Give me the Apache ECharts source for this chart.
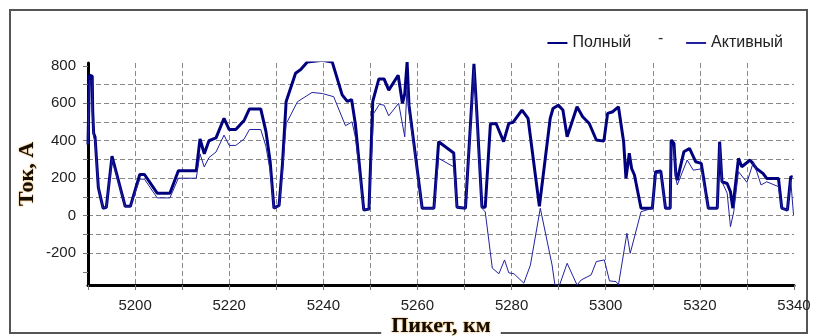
<!DOCTYPE html>
<html>
<head>
<meta charset="utf-8">
<script src="https://cdn.jsdelivr.net/npm/echarts@6/dist/echarts.min.js"></script>
<style>
  html, body { margin: 0; padding: 0; background: #fff; }
  #chart { width: 814px; height: 336px; }
</style>
</head>
<body>
<div id="chart"></div>
<script>
// пикеты (км) и ток полный, А
const fullKm = [5190, 5190.3, 5190.9, 5191.0, 5191.2, 5191.5, 5192.2, 5193.2, 5193.9, 5195.1,
  5197.9, 5199.0, 5201.0, 5202.0, 5204.7, 5207.4, 5209.2, 5213.0, 5213.8, 5214.7,
  5215.7, 5217.2, 5218.9, 5220.0, 5221.4, 5223.2, 5224.3, 5226.7, 5227.8, 5228.7,
  5229.5, 5230.6, 5231.3, 5232.1, 5234.1, 5235.2, 5236.6, 5239.8, 5241.9, 5244.0,
  5245.1, 5246.0, 5246.8, 5248.6, 5249.7, 5250.5, 5251.8, 5252.9, 5253.9, 5255.9,
  5256.8, 5257.3, 5257.8, 5258.2, 5261.0, 5263.5, 5264.5, 5267.7, 5268.4, 5270.2,
  5271.5, 5272.0, 5272.5, 5273.7, 5274.4, 5275.5, 5276.7, 5278.3, 5279.4, 5280.3,
  5282.2, 5283.5, 5285.9, 5288.2, 5288.8, 5289.9, 5290.9, 5291.8, 5293.9, 5295.1,
  5296.5, 5298.0, 5299.6, 5300.4, 5301.5, 5302.7, 5303.8, 5304.3, 5305.0, 5305.5,
  5306.1, 5307.5, 5309.9, 5310.6, 5311.7, 5312.7, 5313.7, 5313.9, 5314.5, 5314.9,
  5315.2, 5316.6, 5317.8, 5319.1, 5320.3, 5321.8, 5323.7, 5324.2, 5324.7, 5325.8,
  5326.5, 5327.0, 5328.2, 5328.9, 5330.7, 5332.0, 5333.4, 5334.2, 5336.7, 5337.4,
  5338.6, 5339.3, 5339.7];
const fullA = [380, 750, 745, 560, 440, 420, 150, 40, 45, 318,
  50, 50, 220, 220, 120, 120, 240, 240, 410, 330,
  400, 415, 520, 460, 460, 510, 570, 570, 450, 290,
  40, 55, 270, 610, 760, 780, 820, 830, 820, 645,
  610, 620, 490, 30, 35, 610, 730, 730, 670, 750,
  600, 650, 820, 590, 40, 40, 395, 335, 45, 40,
  590, 810, 600, 45, 45, 490, 492, 395, 492, 498,
  564, 519, 50, 519, 572, 590, 564, 421, 581, 528,
  492, 404, 398, 546, 555, 581, 395, 199, 333, 252,
  217, 40, 40, 235, 238, 40, 40, 404, 386, 217,
  190, 341, 359, 288, 279, 40, 40, 395, 181, 172,
  128, 40, 306, 261, 297, 252, 226, 199, 199, 40,
  30, 208, 205];

// ток активный, А
const activeKm = [5190, 5190.3, 5190.9, 5191.0, 5191.2, 5191.5, 5192.2, 5193.2, 5193.9, 5195.1,
  5197.9, 5199.0, 5201.0, 5202.0, 5204.7, 5207.4, 5209.2, 5213.0, 5213.8, 5214.7,
  5215.7, 5217.2, 5218.9, 5220.0, 5221.4, 5223.2, 5224.3, 5226.7, 5227.8, 5228.7,
  5229.5, 5230.6, 5231.3, 5232.1, 5234.5, 5237.6, 5239.8, 5242.2, 5244.7, 5246.1,
  5246.8, 5248.6, 5249.7, 5250.7, 5251.9, 5252.9, 5253.9, 5256.0, 5257.3, 5257.8,
  5258.2, 5261.0, 5263.5, 5264.5, 5267.7, 5268.4, 5270.2, 5271.5, 5272.0, 5272.5,
  5273.7, 5274.4, 5275.9, 5277.3, 5278.5, 5279.4, 5280.5, 5282.6, 5284.0, 5286.1,
  5288.6, 5289.2, 5290.2, 5291.8, 5293.9, 5294.8, 5296.9, 5298.0, 5299.7, 5300.8,
  5302.2, 5302.7, 5304.5, 5305.2, 5307.5, 5309.9, 5310.6, 5311.7, 5312.7, 5313.7,
  5313.9, 5314.5, 5314.9, 5315.2, 5317.3, 5318.6, 5320.3, 5321.8, 5323.7, 5324.2,
  5324.7, 5325.8, 5326.5, 5327.2, 5328.2, 5330.0, 5331.4, 5333.0, 5334.2, 5336.7,
  5337.4, 5338.6, 5339.3, 5339.9];
const activeA = [380, 720, 720, 540, 420, 400, 150, 40, 45, 300,
  50, 50, 195, 195, 95, 95, 200, 200, 330, 260,
  310, 340, 430, 375, 375, 410, 460, 460, 370, 240,
  40, 50, 230, 490, 608, 658, 652, 635, 480, 501,
  420, 30, 35, 546, 594, 590, 533, 600, 421, 700,
  560, 40, 40, 306, 261, 45, 40, 560, 780, 570,
  40, 20, -280, -310, -236, -305, -310, -360, -263, 40,
  -263, -370, -370, -254, -370, -343, -316, -245, -236, -348,
  -352, -370, -94, -201, 21, 40, 225, 228, 40, 40,
  380, 360, 200, 164, 297, 243, 250, 40, 40, 380,
  181, 120, -59, 21, 235, 178, 288, 164, 181, 155,
  40, 30, 190, 4];

const yTicks = [-300, -200, -100, 0, 100, 200, 300, 400, 500, 600, 700, 800];
const yLabels = [-200, 0, 200, 400, 600, 800];

const pairs = (xs, ys) => xs.map((x, i) => [x, ys[i]]);

var dom = document.getElementById('chart');
var myChart = echarts.init(dom, null, { renderer: 'canvas' });

var titleStyle = {
  fontFamily: 'Liberation Serif',
  fontWeight: 'bold',
  fontSize: 22,
  color: '#140c00',
  textShadowColor: '#d8902a',
  textShadowBlur: 2
};

var option = {
  animation: false,
  backgroundColor: '#fff',
  grid: { left: 88, right: 20, top: 63, bottom: 51, outerBoundsMode: 'none', containLabel: false },
  legend: {
    right: 26,
    top: 30,
    itemWidth: 20,
    itemHeight: 14,
    itemGap: 54,
    itemStyle: { opacity: 0 },
    textStyle: { fontFamily: 'Liberation Sans', fontSize: 16, color: '#222' },
    data: ['Полный', 'Активный']
  },
  xAxis: {
    type: 'value',
    min: 5190,
    max: 5340,
    interval: 10,
    name: 'Пикет, км',
    nameLocation: 'middle',
    nameGap: 30,
    nameMoveOverlap: false,
    nameTextStyle: Object.assign({ backgroundColor: '#fff', padding: [0, 10, 0, 10] }, titleStyle),
    axisLine: { onZero: false, lineStyle: { color: '#000', width: 3 } },
    axisTick: { show: true, length: 5, lineStyle: { color: '#777' } },
    axisLabel: {
      margin: 13,
      fontFamily: 'Liberation Sans',
      fontSize: 15,
      color: '#222',
      formatter: v => ((v - 5200) % 20 === 0 ? String(v) : '')
    },
    splitLine: {
      show: true,
      showMinLine: false,
      showMaxLine: false,
      lineStyle: { color: '#888', type: [5, 3], width: 1 }
    }
  },
  yAxis: {
    type: 'value',
    min: -370,
    max: 815,
    splitNumber: 12,
    name: 'Ток, А',
    nameLocation: 'middle',
    nameGap: 50,
    nameRotate: 90,
    nameMoveOverlap: false,
    nameTextStyle: titleStyle,
    axisLine: { show: true, lineStyle: { color: '#000', width: 3 } },
    axisTick: { show: true, length: 5, customValues: yTicks, lineStyle: { color: '#777' } },
    axisLabel: {
      margin: 12,
      fontFamily: 'Liberation Sans',
      fontSize: 15,
      color: '#222',
      customValues: yLabels,
      formatter: v => (v % 200 === 0 ? String(v) : '')
    },
    splitLine: {
      show: true,
      showMinLine: false,
      showMaxLine: false,
      lineStyle: { color: '#888', type: [5, 3], width: 1 }
    }
  },
  graphic: [
    {
      type: 'rect',
      z: -10,
      silent: true,
      shape: { x: 10, y: 10, width: 797, height: 323 },
      style: { fill: 'none', stroke: '#555', lineWidth: 2 }
    },
    {
      type: 'text',
      left: 658,
      top: 31,
      silent: true,
      style: { text: '-', fontFamily: 'Liberation Sans', fontSize: 16, fill: '#333' }
    }
  ],
  series: [
    {
      name: 'Полный',
      type: 'line',
      symbol: 'none',
      data: pairs(fullKm, fullA),
      lineStyle: { color: '#00007f', width: 3 },
      itemStyle: { color: '#00007f' }
    },
    {
      name: 'Активный',
      type: 'line',
      symbol: 'none',
      data: pairs(activeKm, activeA),
      lineStyle: { color: '#2222a0', width: 1 },
      itemStyle: { color: '#2222a0' }
    }
  ]
};

myChart.setOption(option);
window.addEventListener('resize', myChart.resize);
</script>
</body>
</html>
